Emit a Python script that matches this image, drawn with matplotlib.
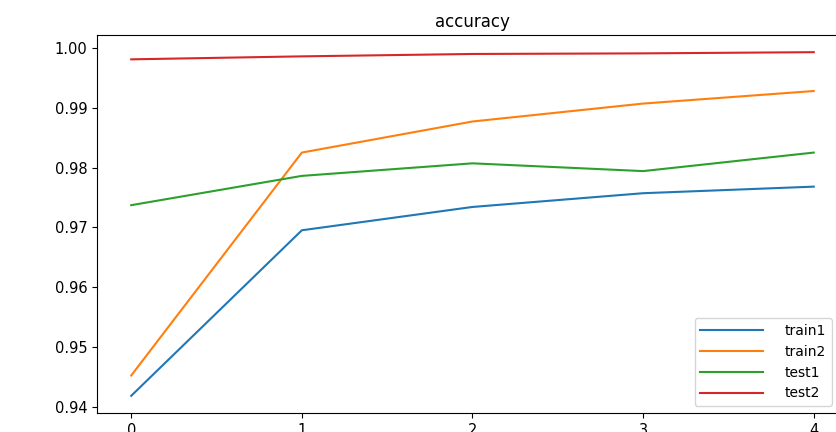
import matplotlib
matplotlib.use('Agg')
import matplotlib.pyplot as plt

# accuracy per epoch for the two runs
epochs = [0, 1, 2, 3, 4]
train1 = [0.9418, 0.9695, 0.9734, 0.9757, 0.9768]
train2 = [0.9452, 0.9825, 0.9877, 0.9907, 0.9928]
test1 = [0.9737, 0.9786, 0.9807, 0.9794, 0.9825]
test2 = [0.9981, 0.9986, 0.9990, 0.9991, 0.9993]

fig = plt.figure(figsize=(8.37, 4.32), dpi=100)
ax = fig.add_axes([0.116, 0.044, 0.897, 0.875])

ax.plot(epochs, train1, label='train1')
ax.plot(epochs, train2, label='train2')
ax.plot(epochs, test1, label='test1')
ax.plot(epochs, test2, label='test2')

ax.set_title('accuracy', fontsize=12)
ax.set_xticks(epochs)
ax.tick_params(labelsize=10.5)
ax.legend(loc='lower right', bbox_to_anchor=(0.988, 0.0),
          handlelength=4.5, handletextpad=1.6, fontsize=10)

fig.savefig('out.png', dpi=100)
